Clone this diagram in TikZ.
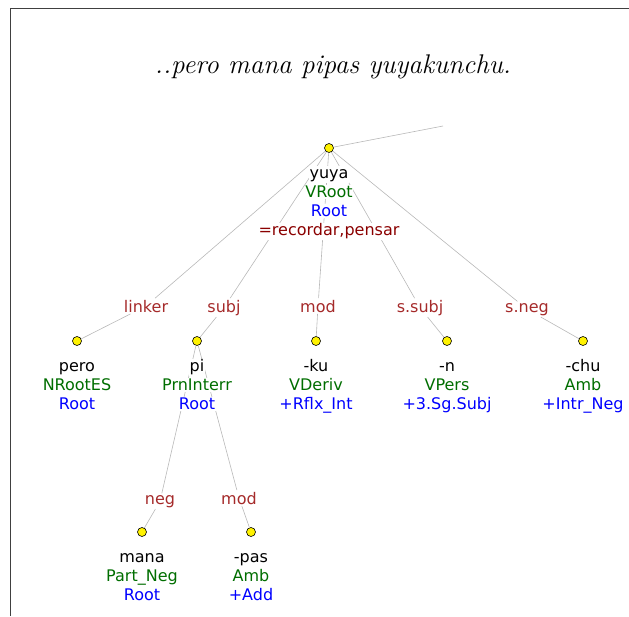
\documentclass[tikz,border=0pt]{standalone}
\usepackage{fontspec}
\usetikzlibrary{positioning}
\newfontfamily\dejavu{DejaVu Sans}
\definecolor{relred}{RGB}{165,42,42}
\definecolor{glossred}{RGB}{139,0,0}
\definecolor{catgreen}{RGB}{0,110,0}
\definecolor{tagblue}{RGB}{0,0,255}
\setlength{\fboxsep}{0.6pt}
% one line of a token, with a white patch behind it
\newcommand{\tk}[2]{\colorbox{white}{\textcolor{#1}{#2}}}
% first line gets a fixed height so all tokens line up
\newcommand{\tkf}[2]{\colorbox{white}{\textcolor{#1}{\vphantom{h}#2}}}

\begin{document}
\begin{tikzpicture}[x=1pt,y=-1pt,
      dot/.style={circle,draw,fill=yellow,minimum size=9pt,inner sep=0pt,line width=0.6pt},
      rel/.style={font=\fontsize{16}{19}\selectfont\dejavu,text=relred,inner sep=1.5pt,anchor=base},
      tok/.style={font=\fontsize{16}{19}\selectfont\dejavu,align=center,inner sep=0pt},
      edge/.style={draw=black!28,line width=0.6pt}]
    \useasboundingbox (0,0) rectangle (629,616);
    \draw[black!75,line width=1pt] (10,616) -- (10,8) -- (629,8);
    \node[font=\fontsize{27}{32}\selectfont\itshape,anchor=base] (title) at (333,73) {..pero mana pipas yuyakunchu.};

    % dots
    \coordinate (top) at (443,126);
    \node[dot] (yuya) at (329,148) {};
    \node[dot] (pero) at (77,341) {};
    \node[dot] (pi) at (197,341) {};
    \node[dot] (ku) at (316,341) {};
    \node[dot] (n) at (447,341) {};
    \node[dot] (chu) at (583,341) {};
    \node[dot] (mana) at (142,532) {};
    \node[dot] (pas) at (251,532) {};

    % relation labels
    \node[rel] (linker) at (146,312) {linker};
    \node[rel] (subj) at (224,312) {subj};
    \node[rel] (mod) at (318,312) {mod};
    \node[rel] (ssubj) at (420,312) {s.subj};
    \node[rel] (sneg) at (527,312) {s.neg};
    \node[rel] (neg) at (160,504) {neg};
    \node[rel] (pimod) at (239,504) {mod};

    \draw[edge] (top) -- (yuya);
    \draw[edge] (yuya) -- (linker) -- (pero);
    \draw[edge] (yuya) -- (subj) -- (pi);
    \draw[edge] (yuya) -- (mod) -- (ku);
    \draw[edge] (yuya) -- (ssubj) -- (n);
    \draw[edge] (yuya) -- (sneg) -- (chu);
    \draw[edge] (pi) -- (neg) -- (mana);
    \draw[edge] (pi) -- (pimod) -- (pas);

    % token texts
    \node[tok,below=13pt of yuya] (yuyaT) {\tkf{black}{yuya}\\\tk{catgreen}{VRoot}\\\tk{tagblue}{Root}\\\tk{glossred}{=recordar,pensar}};
    \node[tok,below=13pt of pero] (peroT) {\tkf{black}{pero}\\\tk{catgreen}{NRootES}\\\tk{tagblue}{Root}};
    \node[tok,below=13pt of pi] (piT) {\tkf{black}{pi}\\\tk{catgreen}{PrnInterr}\\\tk{tagblue}{Root}};
    \node[tok,below=13pt of ku] (kuT) {\tkf{black}{-ku}\\\tk{catgreen}{VDeriv}\\\tk{tagblue}{+Rflx\_Int}};
    \node[tok,below=13pt of n] (nT) {\tkf{black}{-n}\\\tk{catgreen}{VPers}\\\tk{tagblue}{+3.Sg.Subj}};
    \node[tok,below=13pt of chu] (chuT) {\tkf{black}{-chu}\\\tk{catgreen}{Amb}\\\tk{tagblue}{+Intr\_Neg}};
    \node[tok,below=13pt of mana] (manaT) {\tkf{black}{mana}\\\tk{catgreen}{Part\_Neg}\\\tk{tagblue}{Root}};
    \node[tok,below=13pt of pas] (pasT) {\tkf{black}{-pas}\\\tk{catgreen}{Amb}\\\tk{tagblue}{+Add}};
  \end{tikzpicture}
\end{document}
